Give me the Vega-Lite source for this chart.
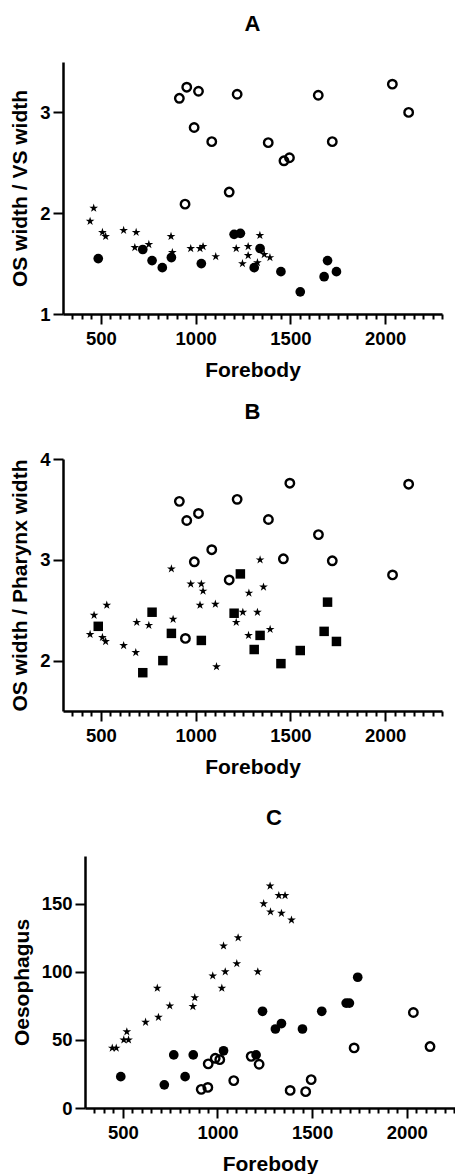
{
  "$schema": "https://vega.github.io/schema/vega-lite/v6.json",
  "padding": {"left": 9, "top": 13, "right": 0, "bottom": 0},
  "background": "white",
  "datasets": {
    "A": [
      {"forebody": 914, "value": 3.14, "group": "open"},
      {"forebody": 953, "value": 3.25, "group": "open"},
      {"forebody": 1015, "value": 3.21, "group": "open"},
      {"forebody": 1219, "value": 3.18, "group": "open"},
      {"forebody": 1647, "value": 3.17, "group": "open"},
      {"forebody": 2038, "value": 3.28, "group": "open"},
      {"forebody": 2124, "value": 3.0, "group": "open"},
      {"forebody": 992, "value": 2.85, "group": "open"},
      {"forebody": 1085, "value": 2.71, "group": "open"},
      {"forebody": 1383, "value": 2.7, "group": "open"},
      {"forebody": 1466, "value": 2.52, "group": "open"},
      {"forebody": 1495, "value": 2.55, "group": "open"},
      {"forebody": 1721, "value": 2.71, "group": "open"},
      {"forebody": 1177, "value": 2.21, "group": "open"},
      {"forebody": 944, "value": 2.09, "group": "open"},
      {"forebody": 486, "value": 1.55, "group": "filled"},
      {"forebody": 721, "value": 1.64, "group": "filled"},
      {"forebody": 770, "value": 1.53, "group": "filled"},
      {"forebody": 824, "value": 1.46, "group": "filled"},
      {"forebody": 872, "value": 1.56, "group": "filled"},
      {"forebody": 1030, "value": 1.5, "group": "filled"},
      {"forebody": 1203, "value": 1.79, "group": "filled"},
      {"forebody": 1236, "value": 1.8, "group": "filled"},
      {"forebody": 1340, "value": 1.65, "group": "filled"},
      {"forebody": 1309, "value": 1.46, "group": "filled"},
      {"forebody": 1450, "value": 1.42, "group": "filled"},
      {"forebody": 1552, "value": 1.22, "group": "filled"},
      {"forebody": 1678, "value": 1.37, "group": "filled"},
      {"forebody": 1696, "value": 1.53, "group": "filled"},
      {"forebody": 1743, "value": 1.42, "group": "filled"},
      {"forebody": 443, "value": 1.92, "group": "star"},
      {"forebody": 462, "value": 2.05, "group": "star"},
      {"forebody": 508, "value": 1.81, "group": "star"},
      {"forebody": 525, "value": 1.77, "group": "star"},
      {"forebody": 620, "value": 1.83, "group": "star"},
      {"forebody": 686, "value": 1.81, "group": "star"},
      {"forebody": 679, "value": 1.66, "group": "star"},
      {"forebody": 753, "value": 1.69, "group": "star"},
      {"forebody": 870, "value": 1.77, "group": "star"},
      {"forebody": 877, "value": 1.61, "group": "star"},
      {"forebody": 974, "value": 1.65, "group": "star"},
      {"forebody": 1023, "value": 1.65, "group": "star"},
      {"forebody": 1039, "value": 1.67, "group": "star"},
      {"forebody": 1106, "value": 1.57, "group": "star"},
      {"forebody": 1214, "value": 1.65, "group": "star"},
      {"forebody": 1277, "value": 1.67, "group": "star"},
      {"forebody": 1339, "value": 1.78, "group": "star"},
      {"forebody": 1277, "value": 1.58, "group": "star"},
      {"forebody": 1247, "value": 1.5, "group": "star"},
      {"forebody": 1326, "value": 1.51, "group": "star"},
      {"forebody": 1362, "value": 1.59, "group": "star"},
      {"forebody": 1392, "value": 1.56, "group": "star"}
    ],
    "B": [
      {"forebody": 914, "value": 3.58, "group": "open"},
      {"forebody": 953, "value": 3.39, "group": "open"},
      {"forebody": 1015, "value": 3.46, "group": "open"},
      {"forebody": 1219, "value": 3.6, "group": "open"},
      {"forebody": 1497, "value": 3.76, "group": "open"},
      {"forebody": 2124, "value": 3.75, "group": "open"},
      {"forebody": 1384, "value": 3.4, "group": "open"},
      {"forebody": 1648, "value": 3.25, "group": "open"},
      {"forebody": 1085, "value": 3.1, "group": "open"},
      {"forebody": 993, "value": 2.98, "group": "open"},
      {"forebody": 1463, "value": 3.01, "group": "open"},
      {"forebody": 1721, "value": 2.99, "group": "open"},
      {"forebody": 2039, "value": 2.85, "group": "open"},
      {"forebody": 1177, "value": 2.8, "group": "open"},
      {"forebody": 946, "value": 2.22, "group": "open"},
      {"forebody": 486, "value": 2.34, "group": "filled"},
      {"forebody": 770, "value": 2.48, "group": "filled"},
      {"forebody": 721, "value": 1.88, "group": "filled"},
      {"forebody": 827, "value": 2.0, "group": "filled"},
      {"forebody": 872, "value": 2.27, "group": "filled"},
      {"forebody": 1030, "value": 2.2, "group": "filled"},
      {"forebody": 1203, "value": 2.47, "group": "filled"},
      {"forebody": 1236, "value": 2.86, "group": "filled"},
      {"forebody": 1309, "value": 2.11, "group": "filled"},
      {"forebody": 1340, "value": 2.25, "group": "filled"},
      {"forebody": 1450, "value": 1.97, "group": "filled"},
      {"forebody": 1552, "value": 2.1, "group": "filled"},
      {"forebody": 1678, "value": 2.29, "group": "filled"},
      {"forebody": 1696, "value": 2.58, "group": "filled"},
      {"forebody": 1743, "value": 2.19, "group": "filled"},
      {"forebody": 872, "value": 2.91, "group": "star"},
      {"forebody": 974, "value": 2.76, "group": "star"},
      {"forebody": 1030, "value": 2.76, "group": "star"},
      {"forebody": 1039, "value": 2.69, "group": "star"},
      {"forebody": 1281, "value": 2.67, "group": "star"},
      {"forebody": 1340, "value": 3.0, "group": "star"},
      {"forebody": 1358, "value": 2.73, "group": "star"},
      {"forebody": 464, "value": 2.45, "group": "star"},
      {"forebody": 531, "value": 2.55, "group": "star"},
      {"forebody": 443, "value": 2.26, "group": "star"},
      {"forebody": 508, "value": 2.23, "group": "star"},
      {"forebody": 525, "value": 2.19, "group": "star"},
      {"forebody": 620, "value": 2.15, "group": "star"},
      {"forebody": 684, "value": 2.08, "group": "star"},
      {"forebody": 689, "value": 2.38, "group": "star"},
      {"forebody": 753, "value": 2.35, "group": "star"},
      {"forebody": 881, "value": 2.41, "group": "star"},
      {"forebody": 1023, "value": 2.55, "group": "star"},
      {"forebody": 1104, "value": 2.56, "group": "star"},
      {"forebody": 1110, "value": 1.94, "group": "star"},
      {"forebody": 1214, "value": 2.38, "group": "star"},
      {"forebody": 1249, "value": 2.48, "group": "star"},
      {"forebody": 1326, "value": 2.48, "group": "star"},
      {"forebody": 1279, "value": 2.25, "group": "star"},
      {"forebody": 1393, "value": 2.31, "group": "star"}
    ],
    "C": [
      {"forebody": 914, "value": 13.7, "group": "open"},
      {"forebody": 949, "value": 15.1, "group": "open"},
      {"forebody": 951, "value": 32.4, "group": "open"},
      {"forebody": 988, "value": 36.5, "group": "open"},
      {"forebody": 1012, "value": 35.5, "group": "open"},
      {"forebody": 1086, "value": 20.1, "group": "open"},
      {"forebody": 1178, "value": 37.9, "group": "open"},
      {"forebody": 1220, "value": 32.1, "group": "open"},
      {"forebody": 1384, "value": 12.9, "group": "open"},
      {"forebody": 1466, "value": 12.0, "group": "open"},
      {"forebody": 1495, "value": 20.8, "group": "open"},
      {"forebody": 1722, "value": 44.1, "group": "open"},
      {"forebody": 2035, "value": 70.1, "group": "open"},
      {"forebody": 2123, "value": 45.1, "group": "open"},
      {"forebody": 489, "value": 23, "group": "filled"},
      {"forebody": 719, "value": 17, "group": "filled"},
      {"forebody": 769, "value": 39, "group": "filled"},
      {"forebody": 829, "value": 23, "group": "filled"},
      {"forebody": 872, "value": 39, "group": "filled"},
      {"forebody": 1032, "value": 42, "group": "filled"},
      {"forebody": 1204, "value": 39, "group": "filled"},
      {"forebody": 1238, "value": 71, "group": "filled"},
      {"forebody": 1306, "value": 58, "group": "filled"},
      {"forebody": 1338, "value": 62, "group": "filled"},
      {"forebody": 1449, "value": 58, "group": "filled"},
      {"forebody": 1551, "value": 71, "group": "filled"},
      {"forebody": 1680, "value": 77, "group": "filled"},
      {"forebody": 1697, "value": 77, "group": "filled"},
      {"forebody": 1741, "value": 96, "group": "filled"},
      {"forebody": 1278, "value": 163, "group": "star"},
      {"forebody": 1244, "value": 150, "group": "star"},
      {"forebody": 1324, "value": 156, "group": "star"},
      {"forebody": 1357, "value": 156, "group": "star"},
      {"forebody": 1280, "value": 144, "group": "star"},
      {"forebody": 1338, "value": 143, "group": "star"},
      {"forebody": 1391, "value": 138, "group": "star"},
      {"forebody": 1109, "value": 125, "group": "star"},
      {"forebody": 1032, "value": 119, "group": "star"},
      {"forebody": 1102, "value": 106, "group": "star"},
      {"forebody": 1041, "value": 100, "group": "star"},
      {"forebody": 975, "value": 97, "group": "star"},
      {"forebody": 1213, "value": 100, "group": "star"},
      {"forebody": 1023, "value": 88, "group": "star"},
      {"forebody": 682, "value": 88, "group": "star"},
      {"forebody": 880, "value": 81, "group": "star"},
      {"forebody": 748, "value": 75, "group": "star"},
      {"forebody": 870, "value": 74.5, "group": "star"},
      {"forebody": 688, "value": 66.6, "group": "star"},
      {"forebody": 620, "value": 63, "group": "star"},
      {"forebody": 521, "value": 56, "group": "star"},
      {"forebody": 505, "value": 50, "group": "star"},
      {"forebody": 530, "value": 50, "group": "star"},
      {"forebody": 444, "value": 44, "group": "star"},
      {"forebody": 465, "value": 44, "group": "star"}
    ]
  },
  "config": {
    "view": {"stroke": null},
    "font": "Liberation Sans",
    "title": {"font": "Liberation Sans", "fontSize": 22, "fontWeight": "bold", "color": "black", "frame": "group", "offset": 26},
    "axis": {
      "grid": false,
      "domainColor": "black",
      "domainWidth": 2.5,
      "tickColor": "black",
      "tickWidth": 2,
      "labelFont": "Liberation Sans",
      "labelFontWeight": "bold",
      "labelFontSize": 18.5,
      "labelColor": "black",
      "titleFont": "Liberation Sans",
      "titleFontWeight": "bold",
      "titleFontSize": 21,
      "titleColor": "black"
    },
    "axisY": {"tickSize": 10, "labelPadding": 3, "titlePadding": 9},
    "axisX": {"labelPadding": 5, "titlePadding": 12}
  },
  "bounds": "flush",
  "spacing": 145,
  "vconcat": [
    {
      "title": "A",
      "width": 379,
      "height": 252,
      "data": {"name": "A"},
      "encoding": {
        "y": {"field": "value", "type": "quantitative", "title": "OS width / VS width",
          "scale": {"domain": [1, 3.5], "nice": false, "zero": false},
          "axis": {"values": [1, 2, 3]}}
      },
      "layer": [
        {"transform": [{"filter": "datum.group === 'open'"}],
         "mark": {"type": "point", "shape": "circle", "filled": false, "stroke": "black", "strokeWidth": 2.4, "size": 72, "opacity": 1},
         "encoding": {"x": {"field": "forebody", "type": "quantitative", "title": "Forebody",
           "scale": {"domain": [300, 2300], "nice": false, "zero": false},
           "axis": {"orient": "bottom", "values": [500, 1000, 1500, 2000], "format": "d", "tickSize": 10}}}},
        {"transform": [{"filter": "datum.group === 'filled'"}],
         "mark": {"type": "point", "shape": "circle", "filled": true, "fill": "black", "size": 94, "opacity": 1},
         "encoding": {"x": {"field": "forebody", "type": "quantitative",
           "scale": {"domain": [300, 2300], "nice": false, "zero": false},
           "axis": {"orient": "bottom", "values": [350,400,450,550,600,650,700,750,800,850,900,950,1050,1100,1150,1200,1250,1300,1350,1400,1450,1550,1600,1650,1700,1750,1800,1850,1900,1950,2050,2100,2150,2200,2250,2300],
             "labels": false, "title": null, "domain": false, "tickSize": 5}}}},
        {"transform": [{"filter": "datum.group === 'star'"}],
         "mark": {"type": "point", "shape": "M0,-1L0.225,-0.309L0.951,-0.309L0.363,0.118L0.588,0.809L0,0.382L-0.588,0.809L-0.363,0.118L-0.951,-0.309L-0.225,-0.309Z", "filled": true, "fill": "black", "size": 84, "opacity": 1},
         "encoding": {"x": {"field": "forebody", "type": "quantitative",
           "scale": {"domain": [300, 2300], "nice": false, "zero": false}, "axis": null}}}
      ],
      "resolve": {"axis": {"x": "independent"}}
    },
    {
      "title": "B",
      "width": 379,
      "height": 252,
      "data": {"name": "B"},
      "encoding": {
        "y": {"field": "value", "type": "quantitative", "title": "OS width / Pharynx width",
          "scale": {"domain": [1.5, 4], "nice": false, "zero": false},
          "axis": {"values": [2, 3, 4]}}
      },
      "layer": [
        {"transform": [{"filter": "datum.group === 'open'"}],
         "mark": {"type": "point", "shape": "circle", "filled": false, "stroke": "black", "strokeWidth": 2.4, "size": 72, "opacity": 1},
         "encoding": {"x": {"field": "forebody", "type": "quantitative", "title": "Forebody",
           "scale": {"domain": [300, 2300], "nice": false, "zero": false},
           "axis": {"orient": "bottom", "values": [500, 1000, 1500, 2000], "format": "d", "tickSize": 10}}}},
        {"transform": [{"filter": "datum.group === 'filled'"}],
         "mark": {"type": "point", "shape": "square", "filled": true, "fill": "black", "size": 90, "opacity": 1},
         "encoding": {"x": {"field": "forebody", "type": "quantitative",
           "scale": {"domain": [300, 2300], "nice": false, "zero": false},
           "axis": {"orient": "bottom", "values": [350,400,450,550,600,650,700,750,800,850,900,950,1050,1100,1150,1200,1250,1300,1350,1400,1450,1550,1600,1650,1700,1750,1800,1850,1900,1950,2050,2100,2150,2200,2250,2300],
             "labels": false, "title": null, "domain": false, "tickSize": 5}}}},
        {"transform": [{"filter": "datum.group === 'star'"}],
         "mark": {"type": "point", "shape": "M0,-1L0.225,-0.309L0.951,-0.309L0.363,0.118L0.588,0.809L0,0.382L-0.588,0.809L-0.363,0.118L-0.951,-0.309L-0.225,-0.309Z", "filled": true, "fill": "black", "size": 84, "opacity": 1},
         "encoding": {"x": {"field": "forebody", "type": "quantitative",
           "scale": {"domain": [300, 2300], "nice": false, "zero": false}, "axis": null}}}
      ],
      "resolve": {"axis": {"x": "independent"}}
    },
    {
      "bounds": "flush",
      "spacing": 21,
      "hconcat": [
        {"width": 1, "height": 1, "data": {"values": []}, "mark": "point"},
        {
          "title": {"text": "C", "dx": 4},
          "width": 370,
          "height": 252,
          "data": {"name": "C"},
          "encoding": {
            "y": {"field": "value", "type": "quantitative", "title": "Oesophagus",
              "scale": {"domain": [0, 185], "nice": false, "zero": false},
              "axis": {"values": [0, 50, 100, 150]}}
          },
          "layer": [
            {"transform": [{"filter": "datum.group === 'open'"}],
             "mark": {"type": "point", "shape": "circle", "filled": false, "stroke": "black", "strokeWidth": 2.4, "size": 72, "opacity": 1},
             "encoding": {"x": {"field": "forebody", "type": "quantitative", "title": "Forebody",
               "scale": {"domain": [300, 2255], "nice": false, "zero": false},
               "axis": {"orient": "bottom", "values": [500, 1000, 1500, 2000], "format": "d", "tickSize": 10}}}},
            {"transform": [{"filter": "datum.group === 'filled'"}],
             "mark": {"type": "point", "shape": "circle", "filled": true, "fill": "black", "size": 94, "opacity": 1},
             "encoding": {"x": {"field": "forebody", "type": "quantitative",
               "scale": {"domain": [300, 2255], "nice": false, "zero": false},
               "axis": {"orient": "bottom", "values": [350,400,450,550,600,650,700,750,800,850,900,950,1050,1100,1150,1200,1250,1300,1350,1400,1450,1550,1600,1650,1700,1750,1800,1850,1900,1950,2050,2100,2150,2200,2250],
                 "labels": false, "title": null, "domain": false, "tickSize": 5}}}},
            {"transform": [{"filter": "datum.group === 'star'"}],
             "mark": {"type": "point", "shape": "M0,-1L0.225,-0.309L0.951,-0.309L0.363,0.118L0.588,0.809L0,0.382L-0.588,0.809L-0.363,0.118L-0.951,-0.309L-0.225,-0.309Z", "filled": true, "fill": "black", "size": 84, "opacity": 1},
             "encoding": {"x": {"field": "forebody", "type": "quantitative",
               "scale": {"domain": [300, 2255], "nice": false, "zero": false}, "axis": null}}}
          ],
          "resolve": {"axis": {"x": "independent"}}
        }
      ]
    }
  ]
}
